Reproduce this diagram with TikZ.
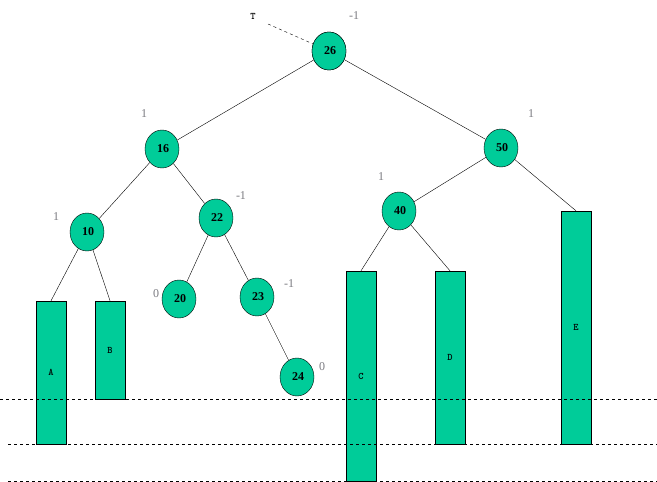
\documentclass[tikz,border=0pt]{standalone}
\usepackage{fontspec}
\setmainfont{Liberation Serif}
\usetikzlibrary{shapes.geometric}
\definecolor{nodegreen}{HTML}{00CC99}
\definecolor{balgray}{HTML}{7A7A80}
\begin{document}
\begin{tikzpicture}[x=1pt,y=-1pt,
  kn/.style={ellipse,draw,fill=nodegreen,minimum width=34pt,minimum height=38pt,inner sep=0pt,font=\bfseries\fontsize{12}{12}\selectfont},
  bar/.style={draw,fill=nodegreen,font=\bfseries\ttfamily\fontsize{10}{10}\selectfont},
  bal/.style={text=balgray,font=\fontsize{12}{12}\selectfont},
  lvl/.style={dashed,thin}]
\useasboundingbox (0,0) rectangle (657,482);
\node[kn] (n26) at (329,51) {\,26};
\node[kn] (n16) at (162,149) {\,16};
\node[kn] (n50) at (501,148) {\,50};
\node[kn] (n10) at (87,232) {\,10};
\node[kn] (n22) at (216,218) {\,22};
\node[kn] (n40) at (399,211) {\,40};
\node[kn] (n20) at (179,299) {\,20};
\node[kn] (n23) at (257,297) {\,23};
\node[kn] (n24) at (297,377) {\,24};
\node[bar,minimum width=30pt,minimum height=143pt] (A) at (51,372.5) {A};
\node[bar,minimum width=30pt,minimum height=98pt] (B) at (110,350) {B};
\node[bar,minimum width=30pt,minimum height=210pt] (C) at (361,376) {C};
\node[bar,minimum width=30pt,minimum height=173pt] (D) at (450,357.5) {D};
\node[bar,minimum width=30pt,minimum height=233pt] (E) at (576,327.5) {E};
\draw (n26)--(n16); \draw (n26)--(n50);
\draw (n16)--(n10); \draw (n16)--(n22);
\draw (n22)--(n20); \draw (n22)--(n23);
\draw (n23)--(n24);
\draw (n50)--(n40); \draw (n50)--(E.north);
\draw (n10)--(A.north); \draw (n10)--(B.north);
\draw (n40)--(C.north); \draw (n40)--(D.north);
\node[font=\bfseries\ttfamily\fontsize{10}{10}\selectfont] (T) at (253,16) {T};
\coordinate (tend) at (268,24);
\draw[dashed] (tend)--(n26.center);
\node[kn] at (329,51) {\,26};
\node[bal] (b26) at (354,16) {-1};
\node[bal] (b16) at (144,114) {1};
\node[bal] (b50) at (531,114) {1};
\node[bal] (b10) at (56,217) {1};
\node[bal] (b22) at (241,196) {-1};
\node[bal] (b40) at (381,177) {1};
\node[bal] (b20) at (156,294) {0};
\node[bal] (b23) at (289,284) {-1};
\node[bal] (b24) at (322,367) {0};
\coordinate (l1a) at (0,399); \coordinate (l1b) at (657,399);
\coordinate (l2a) at (8,444); \coordinate (l2b) at (657,444);
\coordinate (l3a) at (8,481); \coordinate (l3b) at (657,481);
\draw[lvl] (l1a)--(l1b);
\draw[lvl] (l2a)--(l2b);
\draw[lvl] (l3a)--(l3b);
\end{tikzpicture}
\end{document}
